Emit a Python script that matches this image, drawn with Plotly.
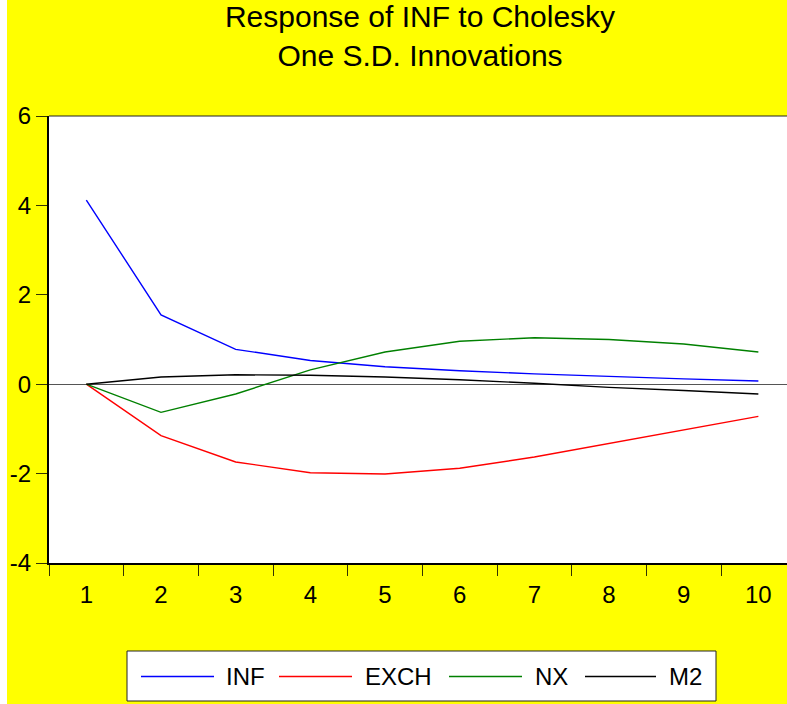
import plotly.graph_objects as go

periods = ["1", "2", "3", "4", "5", "6", "7", "8", "9", "10"]
inf_vals = [4.12, 1.55, 0.78, 0.53, 0.39, 0.30, 0.23, 0.17, 0.12, 0.07]
exch_vals = [0.0, -1.15, -1.74, -1.98, -2.01, -1.88, -1.63, -1.33, -1.02, -0.72]
nx_vals = [0.0, -0.63, -0.22, 0.32, 0.72, 0.96, 1.04, 1.00, 0.90, 0.72]
m2_vals = [0.0, 0.16, 0.21, 0.20, 0.16, 0.10, 0.02, -0.07, -0.14, -0.22]
series_names = ["INF", "EXCH", "NX", "M2"]
series_colors = ["#0000FF", "#FF0000", "#008000", "#000000"]
y_ticks = [-4, -2, 0, 2, 4, 6]
y_tick_labels = ["-4", "-2", "0", "2", "4", "6"]

W, H = 787, 704
ML, MR, MT, MB = 49, 0, 116, 141
PW = W - ML - MR
PH = H - MT - MB
FONT = "Liberation Sans, Arial, sans-serif"


def px_x(p):
    return (p - ML) / PW


def px_y(p):
    return (H - MB - p) / PH


fig = go.Figure()
for name, vals, col in zip(series_names, [inf_vals, exch_vals, nx_vals, m2_vals], series_colors):
    fig.add_trace(go.Scatter(x=periods, y=vals, mode="lines", name=name,
                             line=dict(color=col, width=1.4), showlegend=False))

shapes = []
annotations = []
# top border of plot
shapes.append(dict(type="line", xref="paper", yref="paper", x0=0, x1=1, y0=1, y1=1,
                   line=dict(color="#222222", width=1)))
# white strip on the far left
shapes.append(dict(type="rect", xref="paper", yref="paper", x0=px_x(-5), x1=px_x(7),
                   y0=px_y(H + 5), y1=px_y(-5), fillcolor="white", line=dict(width=0),
                   layer="below"))
# custom legend
shapes.append(dict(type="rect", xref="paper", yref="paper", x0=px_x(127), x1=px_x(716),
                   y0=px_y(701), y1=px_y(651), fillcolor="white",
                   line=dict(color="#222222", width=1)))
line_spans = [(141, 214), (279, 352), (449, 522), (585, 656)]
text_starts = [224, 363, 533, 667]
ly = px_y(676.5)
for name, col, (a, b), t in zip(series_names, series_colors, line_spans, text_starts):
    shapes.append(dict(type="line", xref="paper", yref="paper", x0=px_x(a), x1=px_x(b),
                       y0=ly, y1=ly, line=dict(color=col, width=1.4)))
    annotations.append(dict(text=name, xref="paper", yref="paper", x=px_x(t), y=ly,
                            xanchor="left", yanchor="middle", showarrow=False,
                            font=dict(family=FONT, size=24, color="black")))

fig.update_layout(
    width=W, height=H,
    margin=dict(l=ML, r=MR, t=MT, b=MB, pad=0),
    paper_bgcolor="#FFFF00",
    plot_bgcolor="white",
    title=dict(text="Response of INF to Cholesky<br>One S.D. Innovations",
               font=dict(family=FONT, size=30, color="black"),
               x=420 / W, xref="container", xanchor="center",
               y=1 - 27 / H, yref="container", yanchor="top"),
    xaxis=dict(type="category", range=[-0.5, -0.5 + PW / 74.67],
               tickson="boundaries", ticks="outside", ticklen=11, tickwidth=1,
               tickcolor="#333300", showgrid=False, zeroline=False,
               showline=True, linecolor="black", linewidth=2,
               ticklabelstandoff=9,
               tickfont=dict(family=FONT, size=24, color="black")),
    yaxis=dict(range=[-4, 6], tickvals=y_ticks, ticktext=y_tick_labels,
               ticks="outside", ticklen=11,
               tickwidth=1, tickcolor="#333300", showgrid=False,
               zeroline=True, zerolinecolor="#555555", zerolinewidth=1,
               showline=True, linecolor="black", linewidth=2,
               tickfont=dict(family=FONT, size=24, color="black")),
    shapes=shapes,
    annotations=annotations,
)

fig.write_html("out.html")
